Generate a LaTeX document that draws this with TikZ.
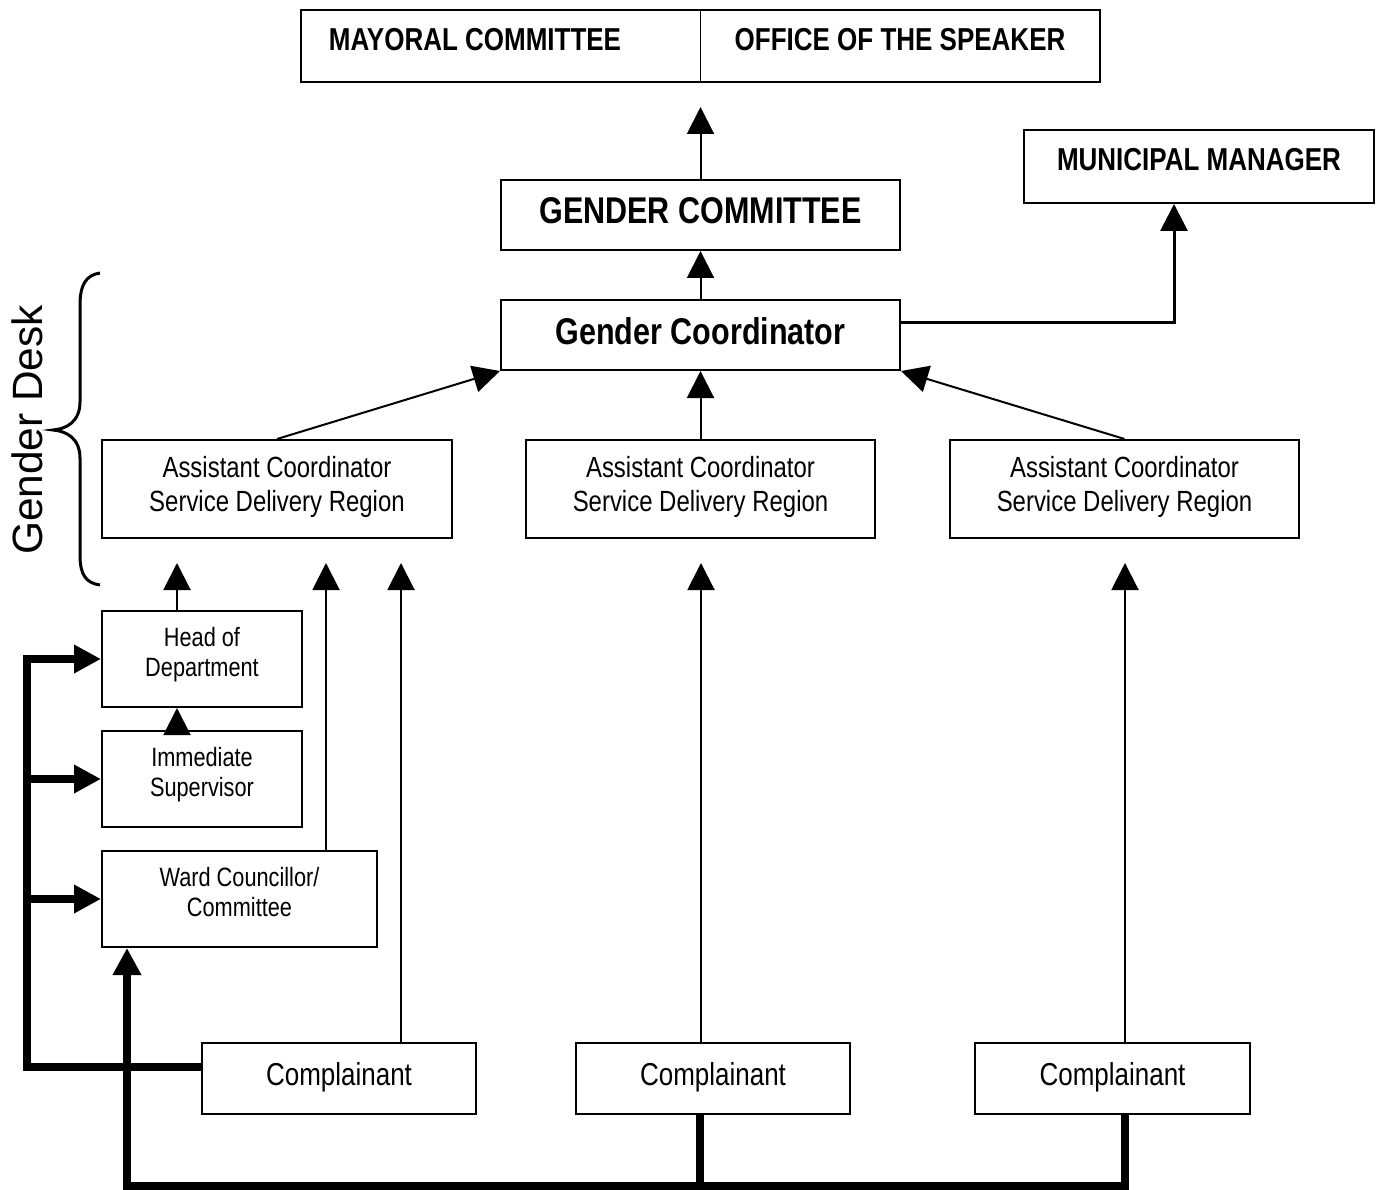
\documentclass[tikz,border=0pt]{standalone}
\usepackage{fontspec}
\setmainfont{Liberation Sans}[FakeStretch=0.82]
\newfontfamily\deskfont{Liberation Sans}
\usetikzlibrary{arrows.meta,calc}
\begin{document}
\begin{tikzpicture}[x=1pt,y=-1pt,
  box/.style={draw,line width=2pt,inner sep=0pt,fill=white},
  lab/.style={anchor=base,inner sep=0pt},
  capsfont/.style={font=\fontsize{31.7}{38}\selectfont\bfseries},
  bigfont/.style={font=\fontsize{37.2}{44}\selectfont\bfseries},
  asfont/.style={font=\fontsize{29.2}{34}\selectfont},
  smfont/.style={font=\fontsize{26.5}{31}\selectfont},
  cpfont/.style={font=\fontsize{31.7}{38}\selectfont},
  thin/.style={line width=2pt,-{Triangle[length=27pt,width=27pt]}},
  thk/.style={line width=8pt},
  thkarr/.style={line width=8pt,-{Triangle[length=27pt,width=27pt]}}
]
\useasboundingbox (0,0) rectangle (1378,1190);
% boxes
\node[box,minimum width=799pt,minimum height=72pt] (top) at (700.5,46) {};
\draw[line width=1pt] (top.north) -- (top.south);
\node[box,minimum width=350pt,minimum height=73pt] (mm) at (1199,166.5) {};
\node[box,minimum width=399pt,minimum height=70pt] (gcomm) at (700.5,215) {};
\node[box,minimum width=399pt,minimum height=70pt] (gcoord) at (700.5,335) {};
\node[box,minimum width=350pt,minimum height=98pt] (as1) at (277,489) {};
\node[box,minimum width=349pt,minimum height=98pt] (as2) at (700.5,489) {};
\node[box,minimum width=349pt,minimum height=98pt] (as3) at (1124.5,489) {};
\node[box,minimum width=200pt,minimum height=96pt] (hod) at (202,659) {};
\node[box,minimum width=200pt,minimum height=96pt] (isup) at (202,779) {};
\node[box,minimum width=275pt,minimum height=96pt] (wc) at (239.5,899) {};
\node[box,minimum width=274pt,minimum height=71pt] (c1) at (339,1078.5) {};
\node[box,minimum width=274pt,minimum height=71pt] (c2) at (713,1078.5) {};
\node[box,minimum width=275pt,minimum height=71pt] (c3) at (1112.5,1078.5) {};
% texts
\node[lab,capsfont] (tmay) at (475,51) {MAYORAL COMMITTEE};
\node[lab,capsfont] (tspk) at (900,51) {OFFICE OF THE SPEAKER};
\node[lab,capsfont] (tmm) at (1199,171) {MUNICIPAL MANAGER};
\node[lab,bigfont] (tgcomm) at (700.5,224) {GENDER COMMITTEE};
\node[lab,bigfont] (tgcoord) at (700.5,344) {Gender Coordinator};
\foreach \n/\x in {1/277,2/700.5,3/1124.5}{
  \node[lab,asfont] (tas\n a) at (\x,477) {Assistant Coordinator};
  \node[lab,asfont] (tas\n b) at (\x,511) {Service Delivery Region};
}
\node[lab,smfont] (thoda) at (202,646) {Head of};
\node[lab,smfont] (thodb) at (202,676) {Department};
\node[lab,smfont] (tisa) at (202,766) {Immediate};
\node[lab,smfont] (tisb) at (202,796) {Supervisor};
\node[lab,smfont] (twca) at (239.5,886) {Ward Councillor/};
\node[lab,smfont] (twcb) at (239.5,916) {Committee};
\node[lab,cpfont] (tc1) at (339,1085) {Complainant};
\node[lab,cpfont] (tc2) at (713,1085) {Complainant};
\node[lab,cpfont] (tc3) at (1112.5,1085) {Complainant};
\node[lab,rotate=90,font=\deskfont\fontsize{42.4}{50}\selectfont] (desk) at (42,430) {Gender Desk};
% brace
\draw[line width=3pt] (100,273) .. controls (86,275) and (80,285) .. (80,305) -- (80,402)
  .. controls (80,422) and (66,429) .. (53,430) .. controls (66,431) and (80,438) .. (80,458)
  -- (80,555) .. controls (80,575) and (86,583) .. (100,585);
% free tip coordinates
\coordinate (tTop) at (700.5,107);
\coordinate (tHod) at (177,563);
\coordinate (tWc) at (326,563);
\coordinate (tC1) at (401,563);
\coordinate (tC2) at (701,563);
\coordinate (tC3) at (1125,563);
% connectors
\draw[thin] (gcomm.north) -- (tTop);
\draw[thin] (gcoord.north) -- (gcomm.south);
\draw[line width=3pt,-{Triangle[length=27pt,width=27pt]}] (gcoord.east |- 0,322) -- (1174,322) -- (1174,0 |- mm.south);
\draw[thin] (as1.north) -- (gcoord.south west);
\draw[thin] (as2.north) -- (gcoord.south);
\draw[thin] (as3.north) -- (gcoord.south east);
\draw[thin] (177,0 |- hod.north) -- (tHod);
\draw[thin] (177,0 |- isup.north) -- (177,0 |- hod.south);
\draw[thin] (326,0 |- wc.north) -- (tWc);
\draw[thin] (401,0 |- c1.north) -- (tC1);
\draw[thin] (701,0 |- c2.north) -- (tC2);
\draw[thin] (1125,0 |- c3.north) -- (tC3);
% thick connectors
\draw[thkarr] (c1.west |- 0,1067) -- (27,1067) -- (27,0 |- hod.west) -- (hod.west);
\draw[thkarr] (27,0 |- isup.west) -- (isup.west);
\draw[thkarr] (27,0 |- wc.west) -- (wc.west);
\draw[thk] (700,0 |- c2.south) -- (700,1186);
\draw[thkarr] (1125,0 |- c3.south) -- (1125,1186) -- (127,1186) -- (127,0 |- wc.south);
\end{tikzpicture}
\end{document}
